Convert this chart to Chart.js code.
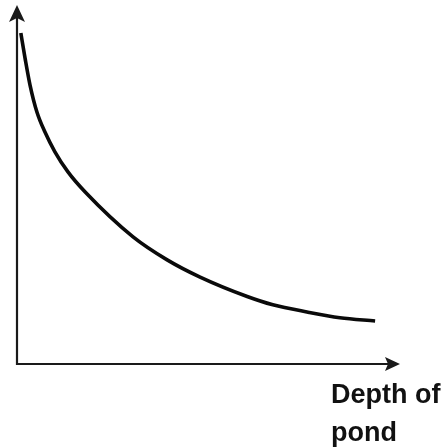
<!DOCTYPE html>
<html>
<head>
<meta charset="utf-8">
<script src="https://cdn.jsdelivr.net/npm/chart.js@4"></script>
<style>
    html, body { margin: 0; padding: 0; background: #fff; }
    #wrap { width: 442px; height: 447px; }
</style>
</head>
<body>
<div id="wrap"><canvas id="pondChart" width="442" height="447"></canvas></div>
<script>
// depth along x, quantity on y (both in relative units 0-100)
const depth = [1.0, 2.1, 3.4, 5.2, 7.3, 9.9, 13.3, 17.8, 30.3, 39.2, 47.8, 60.1, 66.8, 75.7, 84.3, 93.5];
const amount = [92.2, 85.2, 77.7, 70.2, 64.6, 59.1, 53.5, 47.9, 35.4, 29.0, 24.2, 18.8, 16.5, 14.5, 12.9, 12.0];
const xLabelLines = ['Depth of', 'pond'];

// arrowed axes and the x label, drawn from the chart's own scales
const arrowAxes = {
    id: 'arrowAxes',
    afterDraw(chart) {
        const ctx = chart.ctx;
        const x = chart.scales.x;
        const y = chart.scales.y;
        const x0 = x.getPixelForValue(0);
        const y0 = y.getPixelForValue(0);
        const xEnd = x.getPixelForValue(100);
        const yEnd = y.getPixelForValue(100);

        ctx.save();
        ctx.strokeStyle = '#1a1a1a';
        ctx.fillStyle = '#1a1a1a';
        ctx.lineWidth = 2.2;

        ctx.beginPath();
        ctx.moveTo(x0, y0 + 1);
        ctx.lineTo(x0, yEnd + 10);
        ctx.moveTo(x0 - 1, y0);
        ctx.lineTo(xEnd - 8, y0);
        ctx.stroke();

        // y arrowhead
        ctx.beginPath();
        ctx.moveTo(x0, yEnd);
        ctx.lineTo(x0 - 8, yEnd + 17);
        ctx.lineTo(x0, yEnd + 13);
        ctx.lineTo(x0 + 8, yEnd + 17);
        ctx.closePath();
        ctx.fill();

        // x arrowhead
        ctx.beginPath();
        ctx.moveTo(xEnd, y0);
        ctx.lineTo(xEnd - 15, y0 - 7);
        ctx.lineTo(xEnd - 12, y0);
        ctx.lineTo(xEnd - 15, y0 + 7);
        ctx.closePath();
        ctx.fill();

        ctx.fillStyle = '#111';
        ctx.font = 'bold 27px "Liberation Sans", Arial, sans-serif';
        ctx.textAlign = 'left';
        ctx.textBaseline = 'alphabetic';
        xLabelLines.forEach(function (line, i) {
            ctx.fillText(line, xEnd - 69, y0 + 39 + i * 38);
        });
        ctx.restore();
    },
};

new Chart(document.getElementById('pondChart'), {
    type: 'line',
    data: {
        datasets: [
            {
                data: depth.map(function (d, i) { return { x: d, y: amount[i] }; }),
                borderColor: '#0a0a0a',
                borderWidth: 3.6,
                pointRadius: 0,
                cubicInterpolationMode: 'monotone',
                fill: false,
            },
        ],
    },
    options: {
        responsive: false,
        animation: false,
        layout: {
            padding: { left: 17, top: 5, right: 42, bottom: 83 },
        },
        plugins: {
            legend: { display: false },
            tooltip: { enabled: false },
        },
        scales: {
            x: { type: 'linear', min: 0, max: 100, display: false },
            y: { min: 0, max: 100, display: false },
        },
    },
    plugins: [arrowAxes],
});
</script>
</body>
</html>
